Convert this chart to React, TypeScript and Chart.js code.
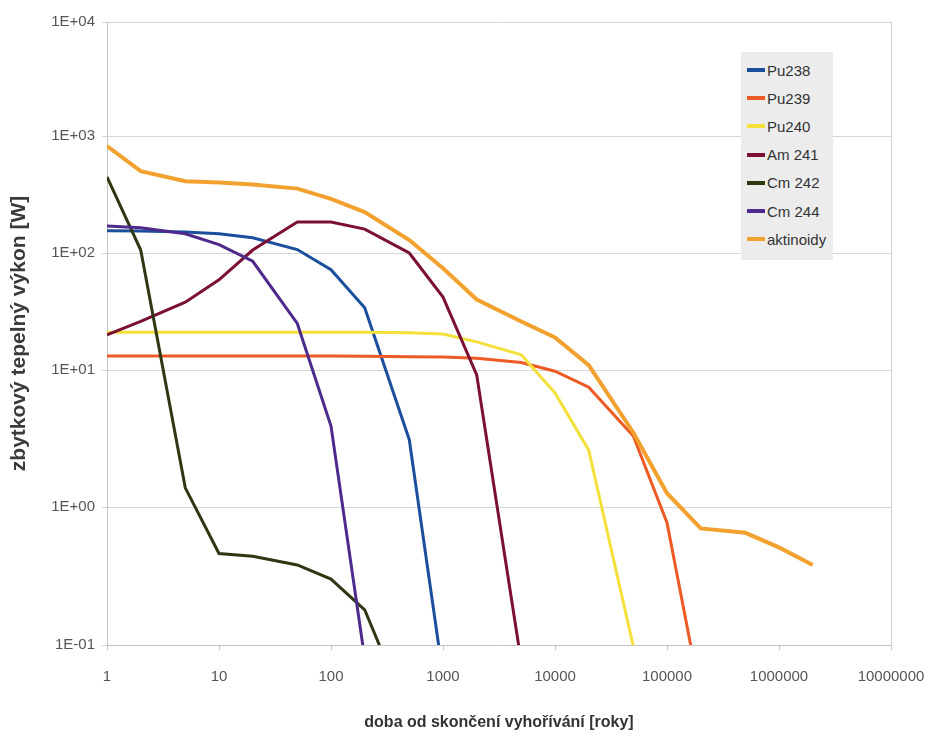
import React, { useEffect, useRef } from 'react';
import { Chart, registerables, LogarithmicScale } from 'chart.js';

Chart.register(...registerables);

// ---------- data ----------
const TIMES = [1, 2, 5, 10, 20, 50, 100, 200, 500, 1000, 2000, 5000, 10000, 20000, 50000, 100000, 200000, 500000, 1000000, 2000000];

const PU238 = [155, 154, 151, 146, 135, 107, 72, 34, 3.1, 0.06];
const PU239 = [13.2, 13.2, 13.2, 13.2, 13.2, 13.2, 13.2, 13.1, 13.0, 12.9, 12.6, 11.6, 9.8, 7.5, 3.3, 0.77, 0.042];
const PU240 = [21, 21, 21, 21, 21, 21, 21, 21, 20.8, 20.3, 17.4, 13.5, 6.8, 2.6, 0.098];
const AM241 = [20, 26, 38, 59, 106, 184, 184, 160, 100, 42, 9.2, 0.075];
const CM242 = [447, 106, 1.38, 0.46, 0.44, 0.38, 0.3, 0.18, 0.03];
const CM244 = [170, 164, 146, 118, 85, 25, 3.9, 0.08];
const AKTINOIDY = [820, 500, 410, 400, 385, 355, 290, 224, 129, 74, 40, 26, 19, 11, 3.5, 1.26, 0.7, 0.65, 0.51, 0.38];

const SERIES_NAMES = ['Pu238', 'Pu239', 'Pu240', 'Am241', 'Cm242', 'Cm244', 'aktinoidy'];
const SERIES_VALUES = [PU238, PU239, PU240, AM241, CM242, CM244, AKTINOIDY];
const SERIES_COLORS = ['#1B4F9C', '#EE5A24', '#F4E03A', '#7B1033', '#2D3813', '#4E2A8C', '#F2A12E'];
const LEGEND_LABELS = ['Pu238', 'Pu239', 'Pu240', 'Am 241', 'Cm 242', 'Cm 244', 'aktinoidy'];

const X_TICKS = [1, 10, 100, 1000, 10000, 100000, 1000000, 10000000];
const X_TICK_LABELS = ['1', '10', '100', '1000', '10000', '100000', '1000000', '10000000'];
const Y_TICKS = [0.1, 1, 10, 100, 1000, 10000];
const Y_TICK_LABELS = ['1E-01', '1E+00', '1E+01', '1E+02', '1E+03', '1E+04'];

const X_TITLE = 'doba od skončení vyhořívání [roky]';
const Y_TITLE = 'zbytkový tepelný výkon [W]';

// ---------- a log scale whose decades may have unequal heights ----------
class DecadeLogScale extends LogarithmicScale {
  static id = 'decadeLog';
  static defaults = LogarithmicScale.defaults;

  _w(): number[] | null {
    const w = (this.options as any).decadeWeights;
    return Array.isArray(w) && w.length ? w.slice() : null;
  }

  getPixelForValue(value: any) {
    const w = this._w();
    if (!w) return super.getPixelForValue(value);
    if (value === undefined || value === 0) value = this.min;
    if (value === null || isNaN(value)) return NaN;
    const total = w.reduce((a, b) => a + b, 0);
    let d = Math.log10(value) - Math.log10(this.min);
    let acc = 0;
    for (let i = 0; i < w.length; i++) {
      if (d <= 1 || i === w.length - 1) {
        acc += w[i] * d;
        break;
      }
      acc += w[i];
      d -= 1;
    }
    return this.getPixelForDecimal(acc / total);
  }

  getValueForPixel(pixel: number) {
    const w = this._w();
    if (!w) return super.getValueForPixel(pixel);
    const total = w.reduce((a, b) => a + b, 0);
    let t = this.getDecimalForPixel(pixel) * total;
    let L = Math.log10(this.min);
    for (let i = 0; i < w.length; i++) {
      if (t <= w[i] || i === w.length - 1) {
        L += t / w[i];
        break;
      }
      t -= w[i];
      L += 1;
    }
    return Math.pow(10, L);
  }
}
Chart.register(DecadeLogScale as any);

const FONT = "'Liberation Sans', Arial, sans-serif";

export default function App() {
  const ref = useRef<HTMLCanvasElement | null>(null);

  useEffect(() => {
    document.body.style.margin = '0';
    if (!ref.current) return;
    const n = SERIES_NAMES.length;
    const datasets = SERIES_NAMES.map((name, si) => ({
      label: name,
      data: SERIES_VALUES[si]
        .map((v, i) => ({ x: TIMES[i], y: v }))
        .filter((p) => p.y !== null && p.y !== undefined),
      borderColor: SERIES_COLORS[si],
      backgroundColor: SERIES_COLORS[si],
      borderWidth: name === 'aktinoidy' ? 4 : 3,
      pointRadius: 0,
      tension: 0,
      fill: false,
      order: n - si,
    }));

    const chart = new Chart(ref.current, {
      type: 'line',
      data: { datasets },
      options: {
        animation: false,
        responsive: false,
        devicePixelRatio: 1,
        layout: { padding: { left: 0, top: 22, right: 39, bottom: 0 } },
        plugins: { legend: { display: false }, tooltip: { enabled: false } },
        scales: {
          x: {
            type: 'logarithmic',
            position: 'bottom',
            min: 1,
            max: 10000000,
            afterBuildTicks: (s: any) => {
              s.ticks = X_TICKS.map((v) => ({ value: v }));
            },
            afterFit: (s: any) => {
              s.height = 95;
            },
            ticks: {
              autoSkip: false,
              maxRotation: 0,
              padding: 0,
              color: '#555',
              font: { family: FONT, size: 15, lineHeight: 3.6 },
              callback: (_v: any, i: number) => X_TICK_LABELS[i],
            },
            grid: { drawOnChartArea: false, drawTicks: true, tickLength: 5, color: '#c8c8c8' },
            border: { display: true, color: '#c4c4c4', width: 1 },
            title: {
              display: true,
              text: X_TITLE,
              color: '#333',
              font: { family: FONT, size: 16, weight: 'bold' },
              padding: { top: 0, bottom: 8 },
            },
          },
          y: {
            type: 'decadeLog' as any,
            position: 'left',
            min: 0.1,
            max: 10000,
            decadeWeights: [138, 137, 117, 117, 114],
            afterBuildTicks: (s: any) => {
              s.ticks = Y_TICKS.map((v) => ({ value: v }));
            },
            afterFit: (s: any) => {
              s.width = 107;
            },
            ticks: {
              padding: 7,
              color: '#555',
              font: { family: FONT, size: 15 },
              callback: (_v: any, i: number) => Y_TICK_LABELS[i],
            },
            grid: { color: '#d6d6d6', lineWidth: 1, tickLength: 5, drawTicks: true },
            border: { display: true, color: '#c4c4c4', width: 1 },
            title: {
              display: true,
              text: Y_TITLE,
              color: '#3a3a3a',
              font: { family: FONT, size: 21, weight: 'bold' },
              padding: { top: 7, bottom: 0 },
            },
          } as any,
          y2: {
            type: 'linear',
            position: 'right',
            min: 0,
            max: 1,
            afterFit: (s: any) => {
              s.width = 0;
            },
            ticks: { display: false },
            grid: { display: false },
            border: { display: true, color: '#d0d0d0', width: 1 },
          },
        },
      } as any,
    });
    return () => chart.destroy();
  }, []);

  return (
    <div style={{ position: 'relative', width: 930, height: 740, background: '#fff' }}>
      <canvas ref={ref} width={930} height={740} style={{ display: 'block' }} />
      <div
        style={{
          position: 'absolute',
          left: 741,
          top: 52,
          width: 92,
          height: 208,
          background: '#ECECEC',
          fontFamily: FONT,
        }}
      >
        {LEGEND_LABELS.map((label, i) => (
          <div
            key={label}
            style={{
              position: 'absolute',
              left: 0,
              top: 18 + i * 28.2 - 10,
              height: 20,
              display: 'flex',
              alignItems: 'center',
            }}
          >
            <span
              style={{
                display: 'inline-block',
                marginLeft: 6,
                width: 18,
                height: 4,
                background: SERIES_COLORS[i],
              }}
            />
            <span style={{ marginLeft: 2, fontSize: 15, color: '#333', whiteSpace: 'nowrap' }}>{label}</span>
          </div>
        ))}
      </div>
    </div>
  );
}
